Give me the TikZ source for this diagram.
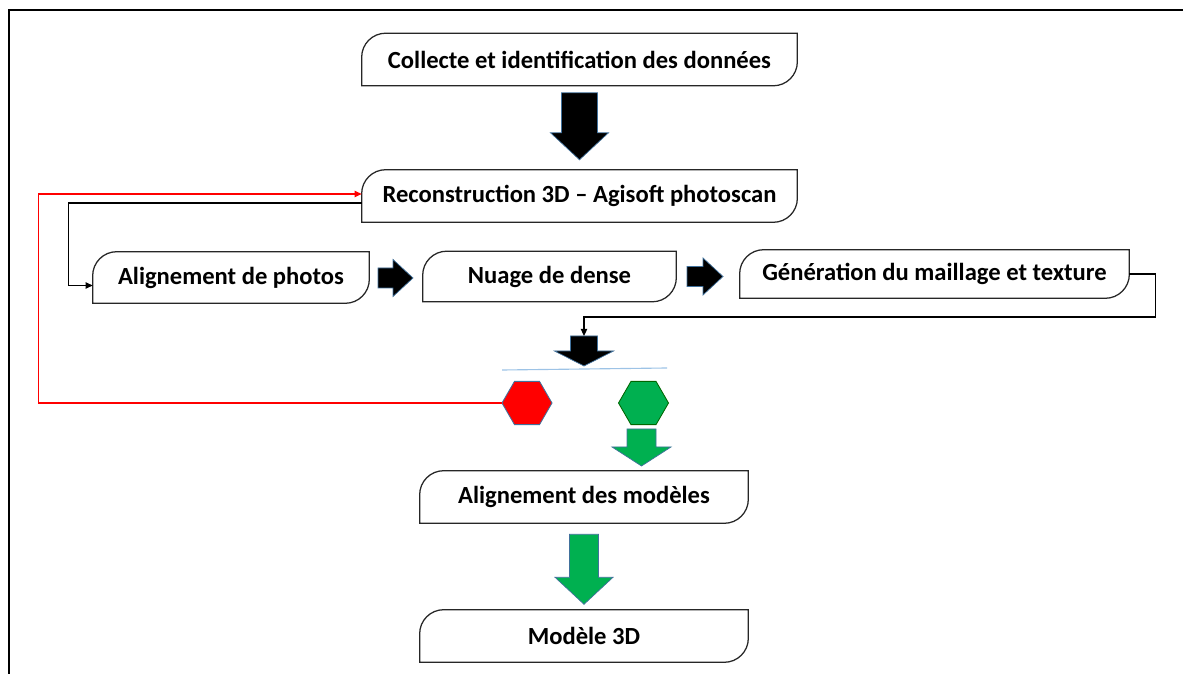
\documentclass[tikz,border=0pt]{standalone}
\usepackage{fontspec}
\setmainfont{Carlito}
\usepackage{tikz}
\usetikzlibrary{arrows.meta,positioning,calc,shapes.geometric}
\definecolor{pptgreen}{HTML}{00B050}
\definecolor{pptred}{HTML}{FF0000}
\definecolor{pptedge}{HTML}{41719C}
\definecolor{pptline}{HTML}{9DC3E6}

% outline with top-left and bottom-right corners rounded
\newcommand{\stageframe}[1]{%
  \draw[black!85, line width=0.9pt] (#1.south west) -- ([yshift=-0.6cm]#1.north west)
    arc[start angle=180, end angle=90, radius=0.6cm] -- (#1.north east)
    -- ([yshift=0.6cm]#1.south east) arc[start angle=0, end angle=-90, radius=0.6cm] -- cycle;}
% block arrow: style, tail, direction, length, shaft half, head half, head length
\newcommand{\blockarrow}[7]{%
  \filldraw[#1, shift={(#2)}, rotate=#3] (0,-#5) -- (#4-#7,-#5) -- (#4-#7,-#6) -- (#4,0)
    -- (#4-#7,#6) -- (#4-#7,#5) -- (0,#5) -- cycle;}

\begin{document}
\begin{tikzpicture}[x=0.025cm, y=0.025cm,
  stage/.style={font=\fontsize{17.5}{21}\selectfont\bfseries, minimum height=1.3cm, inner sep=0pt},
  link/.style={line width=0.9pt, -{Triangle[length=5pt,width=4.5pt]}},
  redlink/.style={link, draw=pptred},
  blkarrow/.style={fill=black, draw=pptedge, line width=0.5pt},
  grnarrow/.style={fill=pptgreen, draw=pptedge, line width=0.5pt},
  hexa/.style={regular polygon, regular polygon sides=6, minimum size=1.25cm, inner sep=0pt, line width=0.6pt}]
  \useasboundingbox (0,0) rectangle (1183,-674);
  \draw[line width=1.3pt] (9,-674) -- (9,-10) -- (1183,-10);

  % stages
  \node[stage, minimum width=10.875cm] (collect) at (579.5,-59.5) {Collecte et identification des données};
  \node[stage, minimum width=10.875cm] (recon) at (579.5,-196) {Reconstruction 3D -- Agisoft photoscan};
  \node[stage, minimum width=6.9cm, minimum height=1.275cm] (photos) at (231,-277.5) {Alignement de photos};
  \node[stage, minimum width=6.325cm, minimum height=1.25cm] (nuage) at (549.5,-276.5) {Nuage de dense};
  \node[stage, minimum width=9.725cm, minimum height=1.2cm] (mesh) at (934.5,-274) {Génération du maillage et texture};
  \node[stage, minimum width=8.2cm] (alignm) at (584,-497) {Alignement des modèles};
  \node[stage, minimum width=8.2cm] (modele) at (584,-636) {Modèle 3D};
  \foreach \n in {collect,recon,photos,nuage,mesh,alignm,modele} {\stageframe{\n}}

  % decision
  \node[hexa, fill=pptred, draw=pptedge] (nok) at (527,-403) {};
  \node[hexa, fill=pptgreen, draw=green!40!black] (ok) at (643.5,-403) {};
  \draw[pptline, line width=0.8pt] (502,-370) -- (667,-368);

  % block arrows
  \blockarrow{blkarrow}{[yshift=-0.175cm]collect.south}{-90}{67}{18}{29}{27}
  \blockarrow{blkarrow}{378,-278}{0}{35}{10}{18.5}{20}
  \blockarrow{blkarrow}{687,-276.5}{0}{36}{10}{18.5}{20}
  \coordinate (a4) at (584,-336);
  \blockarrow{blkarrow}{a4}{-90}{30}{13.5}{29.5}{15}
  \blockarrow{grnarrow}{641.5,-429}{-90}{37}{14.5}{29.5}{19}
  \blockarrow{grnarrow}{[yshift=-0.275cm]alignm.south}{-90}{70}{14.5}{29}{27}

  % connectors
  \draw[link] ([yshift=-0.175cm]recon.west) -| ([xshift=-0.6cm,yshift=-0.2cm]photos.west) -- ([yshift=-0.2cm]photos.west);
  \draw[redlink] (nok.west) -- ++(-463,0) |- ([yshift=0.05cm]recon.west);
  \draw[link] (mesh.east) -- ++(26,0) -- ++(0,-43) -| (a4);
\end{tikzpicture}
\end{document}
